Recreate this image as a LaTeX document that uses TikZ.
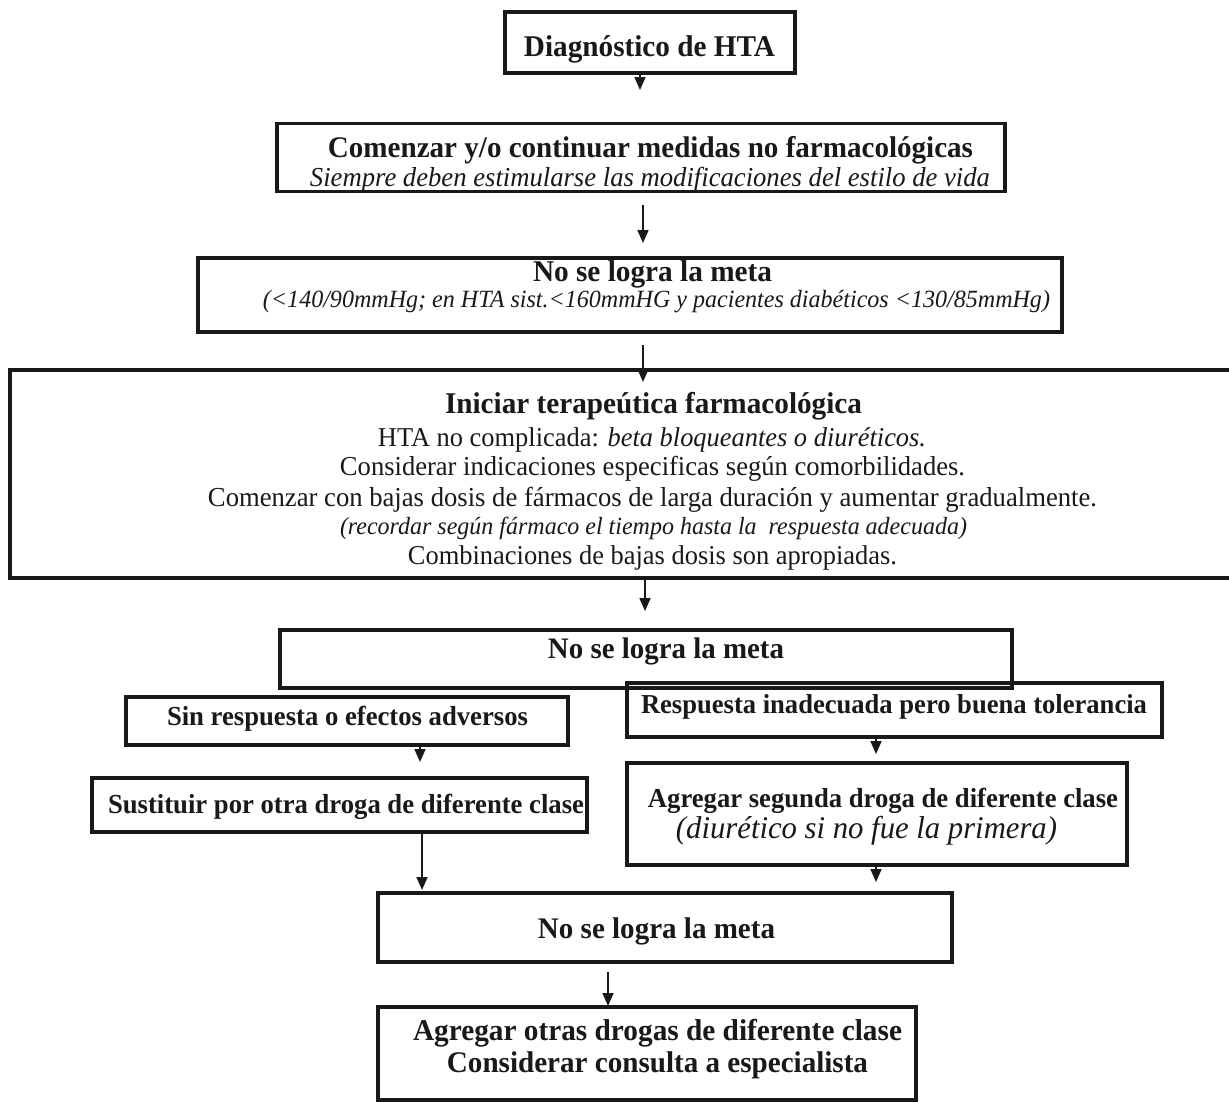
\documentclass[tikz,border=0pt]{standalone}
\usepackage{fontspec}
\setmainfont{Liberation Serif}
\usetikzlibrary{arrows.meta}
\newcommand\fitto[2]{\scalebox{1}[1.03]{\resizebox{#1pt}{!}{#2}}}
\begin{document}
\begin{tikzpicture}[x=1pt,y=-1pt,
  box/.style={draw=black!90, line width=3.2pt, inner sep=0pt},
  txt/.style={inner sep=0pt, anchor=base, text=black!90, font=\fontsize{20}{24}\selectfont},
  arr/.style={draw=black!90, line width=1.7pt, -{Triangle[length=13pt,width=11pt]}}]
\useasboundingbox (0,0) rectangle (1229,1101);
\fill[white] (0,0) rectangle (1229,1101);

% boxes
\node[box, minimum width=290pt, minimum height=61pt] (b1) at (650,42.5) {};
\node[box, minimum width=728pt, minimum height=68pt] (b2) at (641,157.5) {};
\node[box, minimum width=864pt, minimum height=74pt] (b3) at (630,295) {};
\node[box, minimum width=1240pt, minimum height=208pt] (b4) at (630,474) {};
\node[box, minimum width=732pt, minimum height=58pt] (b5) at (646,659) {};
\node[box, minimum width=442pt, minimum height=48pt] (b6) at (347,721) {};
\node[box, minimum width=535pt, minimum height=54pt] (b7) at (894.5,710) {};
\node[box, minimum width=495pt, minimum height=54pt] (b8) at (339.5,805) {};
\node[box, minimum width=500pt, minimum height=102pt] (b9) at (877,814) {};
\node[box, minimum width=574pt, minimum height=69pt] (b10) at (665,927.5) {};
\node[box, minimum width=538pt, minimum height=93pt] (b11) at (647,1053.5) {};

% texts
\node[txt] (t1) at (649.5,56) {\fitto{251}{\bfseries Diagnóstico de HTA}};
\node[txt] (t2a) at (650.5,157) {\fitto{645}{\bfseries Comenzar y/o continuar medidas no farmacológicas}};
\node[txt] (t2b) at (650,186) {\fitto{680}{\itshape Siempre deben estimularse las modificaciones del estilo de vida}};
\node[txt] (t3a) at (652.5,281) {\fitto{239}{\bfseries No se logra la meta}};
\node[txt] (t3b) at (656.5,307) {\fitto{787}{\itshape (<140/90mmHg; en HTA sist.<160mmHG y pacientes diabéticos <130/85mmHg)}};
\node[txt] (t4a) at (653.5,413) {\fitto{417}{\bfseries Iniciar terapeútica farmacológica}};
\node[txt] (t4b) at (652,446) {\fitto{548}{HTA no complicada: \itshape beta bloqueantes o diuréticos.}};
\node[txt] (t4c) at (652.5,475) {\fitto{625}{Considerar indicaciones especificas según comorbilidades.}};
\node[txt] (t4d) at (652.5,506) {\fitto{889}{Comenzar con bajas dosis de fármacos de larga duración y aumentar gradualmente.}};
\node[txt] (t4e) at (653.5,534) {\fitto{627}{\itshape (recordar según fármaco el tiempo hasta la\ \ respuesta adecuada)}};
\node[txt] (t4f) at (652.5,564) {\fitto{489}{Combinaciones de bajas dosis son apropiadas.}};
\node[txt] (t5) at (666,658) {\fitto{236}{\bfseries No se logra la meta}};
\node[txt] (t6) at (347.5,725) {\fitto{361}{\bfseries Sin respuesta o efectos adversos}};
\node[txt] (t7) at (894,713) {\fitto{506}{\bfseries Respuesta inadecuada pero buena tolerancia}};
\node[txt] (t8) at (346,813) {\fitto{476}{\bfseries Sustituir por otra droga de diferente clase}};
\node[txt] (t9a) at (883,807) {\fitto{470}{\bfseries Agregar segunda droga de diferente clase}};
\node[txt] (t9b) at (866.5,838) {\fitto{381}{\itshape (diurético si no fue la primera)}};
\node[txt] (t10) at (656.5,938) {\fitto{237}{\bfseries No se logra la meta}};
\node[txt] (t11a) at (657.5,1040) {\fitto{489}{\bfseries Agregar otras drogas de diferente clase}};
\node[txt] (t11b) at (657.5,1072) {\fitto{421}{\bfseries Considerar consulta a especialista}};

% arrow end points
\coordinate (e1) at (640,90);
\coordinate (s2) at (643,205);
\coordinate (e2) at (643,243);
\coordinate (s3) at (643,345);
\coordinate (e3) at (643,382);
\coordinate (e4) at (645,611);
\coordinate (e5) at (420,762);
\coordinate (e6) at (876,754);
\coordinate (e7) at (422,890);
\coordinate (e8) at (876,882);
\coordinate (s9) at (608,972);
\coordinate (e9) at (608,1006);

\draw[arr] (b1.south -| e1) -- (e1);
\draw[arr] (s2) -- (e2);
\draw[arr] (s3) -- (e3);
\draw[arr] (b4.south -| e4) -- (e4);
\draw[arr] (b6.south -| e5) -- (e5);
\draw[arr] (b7.south -| e6) -- (e6);
\draw[arr] (b8.south -| e7) -- (e7);
\draw[arr] (b9.south -| e8) -- (e8);
\draw[arr] (s9) -- (e9);
\end{tikzpicture}
\end{document}
